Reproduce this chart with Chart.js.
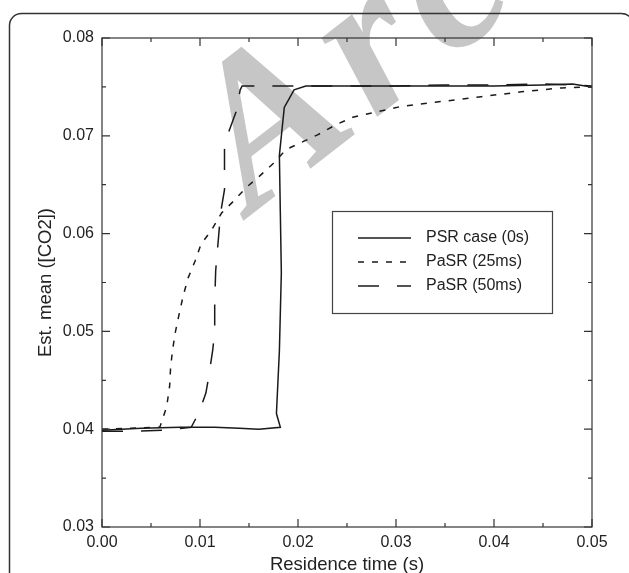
<!DOCTYPE html>
<html>
<head>
<meta charset="utf-8">
<script src="https://cdn.jsdelivr.net/npm/chart.js@4.4.1/dist/chart.umd.min.js"></script>
<style>
  html, body { margin: 0; padding: 0; background: #fff; }
  #wrap { width: 629px; height: 573px; }
</style>
</head>
<body>
<div id="wrap"><canvas id="co2Chart" width="629" height="573"></canvas></div>
<script>
// residence time (s) and estimated mean CO2 for each reactor model
const psrTime = [0, 0.004, 0.008, 0.0115, 0.014, 0.016, 0.0182, 0.0178, 0.0181, 0.0183, 0.0182, 0.0181, 0.0186, 0.0196, 0.0208, 0.025, 0.03, 0.035, 0.04, 0.045, 0.048, 0.05];
const psrCO2 = [0.0399, 0.0401, 0.0402, 0.0402, 0.0401, 0.0400, 0.0402, 0.0416, 0.0480, 0.0560, 0.0620, 0.0680, 0.0729, 0.0747, 0.0751, 0.0751, 0.0751, 0.0751, 0.0751, 0.0752, 0.0753, 0.0750];

const pasr25Time = [0, 0.003, 0.0059, 0.0066, 0.0069, 0.0070, 0.0072, 0.0075, 0.0079, 0.0083, 0.0088, 0.0095, 0.0101, 0.0112, 0.0122, 0.0134, 0.0147, 0.0161, 0.0175, 0.0188, 0.0205, 0.022, 0.024, 0.0256, 0.0305, 0.0346, 0.0387, 0.0428, 0.0469, 0.05];
const pasr25CO2 = [0.0400, 0.0401, 0.0402, 0.0423, 0.0444, 0.0463, 0.0481, 0.0500, 0.0519, 0.0537, 0.0555, 0.0572, 0.0589, 0.0604, 0.0621, 0.0633, 0.0647, 0.0659, 0.0672, 0.0686, 0.0694, 0.0701, 0.0712, 0.0719, 0.0730, 0.0735, 0.0740, 0.0745, 0.0749, 0.0750];

const pasr50Time = [0, 0.0035, 0.0066, 0.0091, 0.0099, 0.0106, 0.0109, 0.0110, 0.0113, 0.0115, 0.0115, 0.0116, 0.0121, 0.0125, 0.0125, 0.0126, 0.0130, 0.0137, 0.0141, 0.0143, 0.02, 0.03, 0.035, 0.04, 0.045, 0.048, 0.05];
const pasr50CO2 = [0.0398, 0.0398, 0.0399, 0.0402, 0.0417, 0.0437, 0.0454, 0.0461, 0.0481, 0.0500, 0.0529, 0.0562, 0.0621, 0.0645, 0.0686, 0.0694, 0.0706, 0.0725, 0.0747, 0.0751, 0.0751, 0.0751, 0.0752, 0.0752, 0.0753, 0.0752, 0.0751];

const seriesNames = ["PSR case (0s)", "PaSR (25ms)", "PaSR (50ms)"];
const xTitle = "Residence time (s)";
const yTitle = "Est. mean ([CO2])";

const ink = "#1a1a1a";
const textColor = "#222";
const fontFamily = "'Liberation Sans', Arial, sans-serif";
const tickFont = { family: fontFamily, size: 16 };
const titleFont = { family: fontFamily, size: 18.5 };

function toPoints(xs, ys) {
  return xs.map((x, i) => ({ x: x, y: ys[i] }));
}

// faint grey stamp behind the figure, rounded outer frame
const backdrop = {
  id: "backdrop",
  beforeDraw(chart) {
    const ctx = chart.ctx;
    ctx.save();
    ctx.fillStyle = "#fff";
    ctx.fillRect(0, 0, chart.width, chart.height);
    ctx.translate(252, 214);
    ctx.rotate(-0.66);
    ctx.fillStyle = "#c6c6c6";
    ctx.font = "bold italic 210px 'Liberation Serif', serif";
    ctx.letterSpacing = "14px";
    ctx.fillText("Archive of SID", 0, 0);
    ctx.restore();

    ctx.save();
    ctx.strokeStyle = "#333";
    ctx.lineWidth = 1.5;
    ctx.beginPath();
    ctx.roundRect(9.5, 13.5, 624, 600, 12);
    ctx.stroke();
    ctx.restore();
  }
};

// box round the plot with inward major/minor ticks on all four sides
const frameTicks = {
  id: "frameTicks",
  afterDatasetsDraw(chart) {
    const { ctx, chartArea: a, scales } = chart;
    const xs = scales.x, ys = scales.y;
    ctx.save();
    ctx.strokeStyle = "#333";
    ctx.lineWidth = 1.2;
    ctx.strokeRect(a.left, a.top, a.right - a.left, a.bottom - a.top);
    ctx.beginPath();
    const xv = xs.ticks.map(t => t.value);
    xv.forEach((v, i) => {
      const p = xs.getPixelForValue(v);
      ctx.moveTo(p, a.bottom); ctx.lineTo(p, a.bottom - 8);
      ctx.moveTo(p, a.top); ctx.lineTo(p, a.top + 8);
      if (i < xv.length - 1) {
        const m = xs.getPixelForValue((v + xv[i + 1]) / 2);
        ctx.moveTo(m, a.bottom); ctx.lineTo(m, a.bottom - 4);
        ctx.moveTo(m, a.top); ctx.lineTo(m, a.top + 4);
      }
    });
    const yv = ys.ticks.map(t => t.value);
    yv.forEach((v, i) => {
      const p = ys.getPixelForValue(v);
      ctx.moveTo(a.left, p); ctx.lineTo(a.left + 8, p);
      ctx.moveTo(a.right, p); ctx.lineTo(a.right - 8, p);
      if (i < yv.length - 1) {
        const m = ys.getPixelForValue((v + yv[i + 1]) / 2);
        ctx.moveTo(a.left, m); ctx.lineTo(a.left + 4, m);
        ctx.moveTo(a.right, m); ctx.lineTo(a.right - 4, m);
      }
    });
    ctx.stroke();
    ctx.restore();
  }
};

// boxed legend inside the plot
const boxLegend = {
  id: "boxLegend",
  afterDatasetsDraw(chart) {
    const ctx = chart.ctx;
    const box = { x: 332.5, y: 211.5, w: 220, h: 102 };
    ctx.save();
    ctx.fillStyle = "#fff";
    ctx.fillRect(box.x, box.y, box.w, box.h);
    ctx.strokeStyle = "#444";
    ctx.lineWidth = 1.2;
    ctx.strokeRect(box.x, box.y, box.w, box.h);
    ctx.font = "16px " + fontFamily;
    ctx.textBaseline = "middle";
    chart.data.datasets.forEach((ds, i) => {
      const y = 238 + i * 24;
      ctx.strokeStyle = ds.borderColor;
      ctx.lineWidth = ds.borderWidth;
      ctx.setLineDash(ds.borderDash || []);
      ctx.beginPath();
      ctx.moveTo(358, y);
      ctx.lineTo(411, y);
      ctx.stroke();
      ctx.setLineDash([]);
      ctx.fillStyle = textColor;
      ctx.fillText(ds.label, 426, y);
    });
    ctx.restore();
  }
};

const ctx = document.getElementById("co2Chart").getContext("2d");
new Chart(ctx, {
  type: "scatter",
  data: {
    datasets: [
      {
        label: seriesNames[0],
        data: toPoints(psrTime, psrCO2),
        borderColor: ink,
        borderWidth: 1.5,
        borderDash: []
      },
      {
        label: seriesNames[1],
        data: toPoints(pasr25Time, pasr25CO2),
        borderColor: ink,
        borderWidth: 1.5,
        borderDash: [6, 8]
      },
      {
        label: seriesNames[2],
        data: toPoints(pasr50Time, pasr50CO2),
        borderColor: ink,
        borderWidth: 1.5,
        borderDash: [21, 18]
      }
    ].map(ds => Object.assign(ds, { showLine: true, pointRadius: 0, tension: 0, fill: false }))
  },
  options: {
    responsive: false,
    animation: false,
    layout: { padding: { left: 0, right: 37, top: 38, bottom: -3 } },
    plugins: {
      legend: { display: false },
      tooltip: { enabled: false }
    },
    scales: {
      x: {
        type: "linear",
        min: 0,
        max: 0.05,
        grid: { display: false, drawTicks: false },
        border: { display: false },
        ticks: {
          stepSize: 0.01,
          padding: 6,
          color: textColor,
          font: tickFont,
          maxRotation: 0,
          callback: v => v.toFixed(2)
        },
        title: { display: true, text: xTitle, color: textColor, font: titleFont, padding: { top: 0, bottom: 0 } },
        afterFit: s => { s.height = 49; }
      },
      y: {
        type: "linear",
        min: 0.03,
        max: 0.08,
        grid: { display: false, drawTicks: false },
        border: { display: false },
        ticks: {
          stepSize: 0.01,
          padding: 8,
          color: textColor,
          font: tickFont,
          callback: v => v.toFixed(2)
        },
        title: { display: true, text: yTitle, color: textColor, font: titleFont, padding: { top: 35, bottom: 0 } },
        afterFit: s => { s.width = 102; }
      }
    }
  },
  plugins: [backdrop, frameTicks, boxLegend]
});
</script>
</body>
</html>
